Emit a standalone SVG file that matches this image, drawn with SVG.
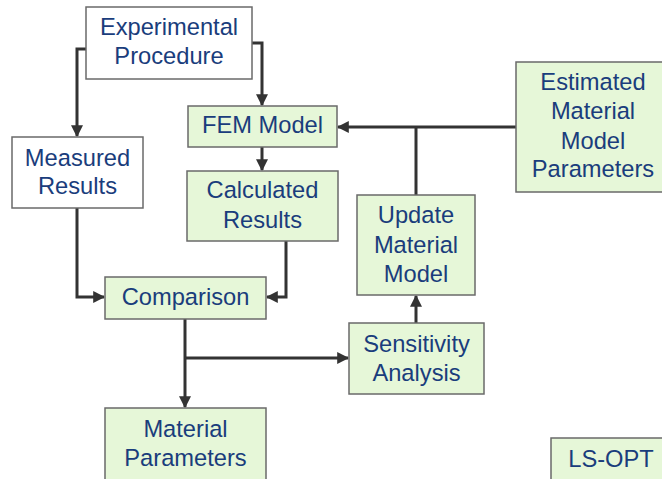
<svg xmlns="http://www.w3.org/2000/svg" width="662" height="479" viewBox="0 0 662 479">
<defs>
<style>
.w{fill:#ffffff;stroke:#6a6a6a;stroke-width:1.5}
.g{fill:#e6f7d8;stroke:#6a6a6a;stroke-width:1.5}
text{font-family:"Liberation Sans",Arial,sans-serif;font-size:23.7px;fill:#1a3d7c;text-anchor:middle}
.c{fill:none;stroke:#333333;stroke-width:3}
</style>
<marker id="a" viewBox="0 0 10 10" refX="9" refY="5" markerWidth="4" markerHeight="4" orient="auto" markerUnits="strokeWidth">
<path d="M0,0 L10,5 L0,10 z" fill="#333333"/>
</marker>
</defs>
<g id="connectors">
<path class="c" d="M86,49 H77 V136" marker-end="url(#a)"/>
<path class="c" d="M252,43 H262 V105" marker-end="url(#a)"/>
<path class="c" d="M262,147 V170" marker-end="url(#a)"/>
<path class="c" d="M77,208 V297 H104" marker-end="url(#a)"/>
<path class="c" d="M286,241 V297 H267" marker-end="url(#a)"/>
<path class="c" d="M185,319 V407" marker-end="url(#a)"/>
<path class="c" d="M185,358 H348" marker-end="url(#a)"/>
<path class="c" d="M416,323 V296" marker-end="url(#a)"/>
<path class="c" d="M416,195 V127"/>
<path class="c" d="M516,127 H338" marker-end="url(#a)"/>
</g>
<g id="experimental-procedure">
<rect class="w" x="86" y="7" width="166" height="72"/>
<text x="169" y="35">Experimental</text>
<text x="169" y="64">Procedure</text>
</g>
<g id="measured-results">
<rect class="w" x="12" y="137" width="131" height="71"/>
<text x="77.5" y="166">Measured</text>
<text x="77.5" y="194">Results</text>
</g>
<g id="fem-model">
<rect class="g" x="188" y="106" width="149" height="41"/>
<text x="262.5" y="133">FEM Model</text>
</g>
<g id="calculated-results">
<rect class="g" x="187" y="171" width="151" height="70"/>
<text x="262.5" y="198">Calculated</text>
<text x="262.5" y="228">Results</text>
</g>
<g id="comparison">
<rect class="g" x="105" y="277" width="161" height="42"/>
<text x="185.5" y="305">Comparison</text>
</g>
<g id="material-parameters">
<rect class="g" x="105" y="408" width="161" height="80"/>
<text x="185.5" y="437">Material</text>
<text x="185.5" y="466">Parameters</text>
</g>
<g id="sensitivity-analysis">
<rect class="g" x="349" y="323" width="135" height="71"/>
<text x="416.5" y="352">Sensitivity</text>
<text x="416.5" y="381">Analysis</text>
</g>
<g id="update-material-model">
<rect class="g" x="357" y="195" width="118" height="100"/>
<text x="416" y="223">Update</text>
<text x="416" y="253">Material</text>
<text x="416" y="282">Model</text>
</g>
<g id="estimated-parameters">
<rect class="g" x="516" y="62" width="150" height="130"/>
<text x="593" y="90">Estimated</text>
<text x="593" y="119">Material</text>
<text x="593" y="149">Model</text>
<text x="593" y="177">Parameters</text>
</g>
<g id="ls-opt">
<rect class="g" x="551" y="438" width="120" height="50"/>
<text x="611" y="467">LS-OPT</text>
</g>
</svg>
